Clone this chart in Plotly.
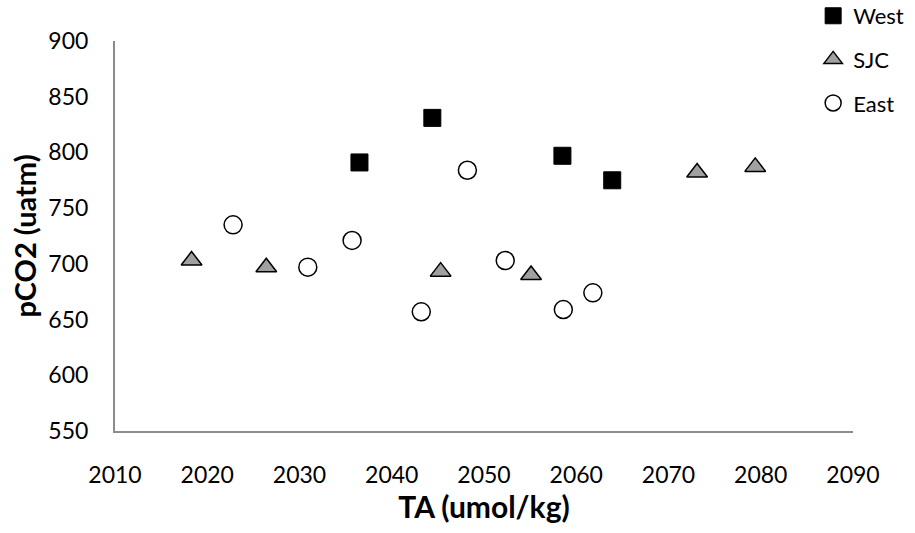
import plotly.graph_objects as go

west_x = [2036.5, 2044.4, 2058.5, 2063.9]
west_y = [791, 831, 797, 775]

sjc_x = [2018.3, 2026.4, 2045.3, 2055.1, 2073.1, 2079.4]
sjc_y = [703, 697, 693, 690, 782, 787]

east_x = [2022.8, 2030.9, 2035.7, 2043.2, 2048.2, 2052.3, 2058.6, 2061.8]
east_y = [735, 697, 721, 657, 784, 703, 659, 674]

x_ticks = [2010, 2020, 2030, 2040, 2050, 2060, 2070, 2080, 2090]
y_ticks = [550, 600, 650, 700, 750, 800, 850, 900]

FONT = "Lato, 'Open Sans', sans-serif"

fig = go.Figure()
fig.add_trace(go.Scatter(x=west_x, y=west_y, mode="markers", name="West",
                         legendgroup="w",
                         marker=dict(symbol="square", size=17, color="black",
                                     line=dict(color="black", width=1))))
fig.add_trace(go.Scatter(x=sjc_x, y=sjc_y, mode="markers", name="SJC",
                         legendgroup="s",
                         marker=dict(symbol="triangle-up", size=18, color="#a0a0a0",
                                     line=dict(color="black", width=1.5))))
fig.add_trace(go.Scatter(x=east_x, y=east_y, mode="markers", name="East",
                         legendgroup="e",
                         marker=dict(symbol="circle", size=18, color="white",
                                     line=dict(color="black", width=1.5))))

fig.update_layout(
    width=915, height=533,
    margin=dict(l=115, r=62, t=41, b=102, autoexpand=False),
    paper_bgcolor="white", plot_bgcolor="white",
    font=dict(family=FONT, color="black", size=23),
    showlegend=True,
    legend=dict(x=0.946, y=1.118, xanchor="left", yanchor="top",
                font=dict(size=22, family=FONT), traceorder="grouped",
                tracegroupgap=12, bgcolor="rgba(0,0,0,0)",
                itemwidth=30),
    xaxis=dict(range=[2010, 2090], tickvals=x_ticks, ticktext=[str(v) for v in x_ticks],
               showgrid=False, zeroline=False, showline=True, linecolor="#8c8c8c",
               linewidth=2, ticks="", ticklabelstandoff=22,
               title=dict(text="<b>TA (umol/kg)</b>", font=dict(size=30), standoff=8)),
    yaxis=dict(range=[550, 900], tickvals=y_ticks, ticktext=[str(v) for v in y_ticks],
               showgrid=False, zeroline=False, showline=True, linecolor="#8c8c8c",
               linewidth=2, ticks="", ticklabelstandoff=20,
               title=dict(text="<b>pCO2 (uatm)</b>", font=dict(size=29), standoff=3)),
)

fig.write_html("out.html")
